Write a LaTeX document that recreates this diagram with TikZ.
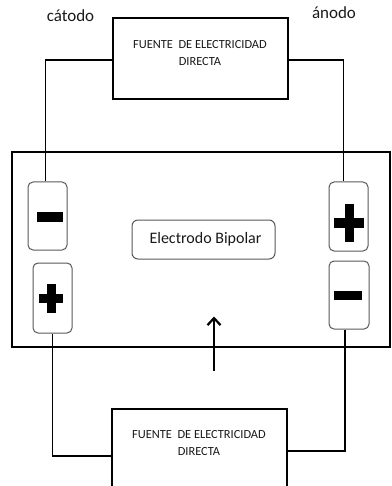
\documentclass[tikz,border=0pt]{standalone}
\usepackage{fontspec}
\setmainfont{Carlito}
\usetikzlibrary{arrows.meta,calc}
\begin{document}
\begin{tikzpicture}[x=1pt,y=-1pt,
  srcbox/.style={draw=black,line width=2pt,minimum width=175pt,minimum height=81pt,inner sep=0pt},
  srctext/.style={align=center,font=\fontsize{12.4}{17}\selectfont,text=black!90},
  cellbox/.style={draw=black,line width=1.8pt,minimum width=378pt,minimum height=195pt,inner sep=0pt},
  elecbox/.style={draw=black!65,line width=1pt,rounded corners=5pt,fill=white,minimum width=39pt,inner sep=0pt},
  bipbox/.style={draw=black!65,line width=1pt,rounded corners=6pt,fill=white,minimum width=143pt,minimum height=39pt,inner sep=0pt,font=\fontsize{16}{18}\selectfont,text=black!90},
  wire/.style={draw=black,line width=1.8pt},
  lbl/.style={font=\fontsize{17}{20}\selectfont,text=black!90}
]
\useasboundingbox (0,0) rectangle (391,486);
% boxes
\node[srcbox] (src1) at (200.5,58.5) {};
\node[srctext] (src1t) at (200,53.5) {FUENTE\ \ DE ELECTRICIDAD\\DIRECTA};
\node[srcbox] (src2) at (199.5,449.5) {};
\node[srctext] (src2t) at (199,443) {FUENTE\ \ DE ELECTRICIDAD\\DIRECTA};
\node[cellbox] (cell) at (201,249.5) {};
% electrodes
\node[elecbox,minimum height=68pt] (neg1) at (47.5,216) {};
\node[elecbox,minimum height=70pt] (pos2) at (52.5,298) {};
\node[elecbox,minimum height=69pt] (pos1) at (348.5,216.5) {};
\node[elecbox,minimum width=40pt,minimum height=68pt] (neg2) at (349,295) {};
\node[bipbox] (bip) at (203.5,239.5) {\hspace*{4pt}Electrodo Bipolar};
% signs
\fill[black] (37,212) rectangle (63,221.5);
\fill[black] (39.3,294) rectangle (63.3,302.5);
\fill[black] (47,284) rectangle (55.5,312.5);
\fill[black] (334.3,217.5) rectangle (364.3,227.5);
\fill[black] (345,204) rectangle (354.3,242);
\fill[black] (334.3,290.7) rectangle (362,300);
% labels
\node[lbl] (cat) at (70.5,16) {cátodo};
\node[lbl] (ano) at (334,13) {ánodo};
% wires
\draw[wire] ([yshift=-1.5pt]src1.west) -| ([xshift=-2pt]neg1.north);
\draw[wire] ([yshift=-1.5pt]src1.east) -| ([xshift=-5pt]pos1.north);
\draw[wire] (pos2.south) |- ([yshift=-6.5pt]src2.west);
\draw[wire] ([xshift=-4pt]neg2.south) |- ([yshift=-1.5pt]src2.east);
% arrow
\coordinate (a0) at (214,371);
\coordinate (a1) at (214,316.5);
\draw[line width=2.2pt,-{Straight Barb[length=7pt,width=13pt,line width=2.2pt]}] (a0) -- (a1);
\end{tikzpicture}
\end{document}
